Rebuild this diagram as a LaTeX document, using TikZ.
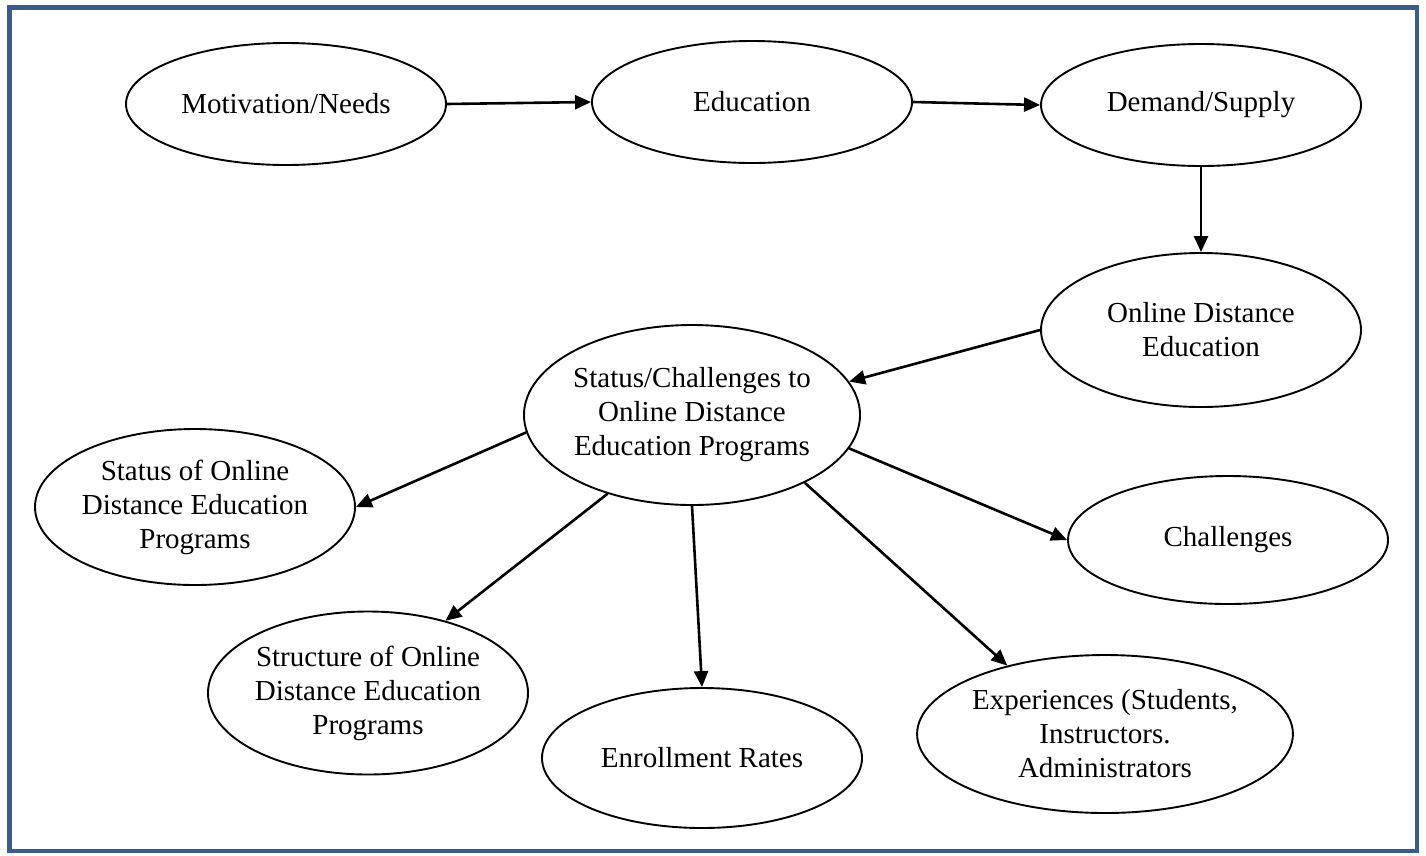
\documentclass[tikz,border=0pt]{standalone}
\usepackage{fontspec}
\setmainfont{Liberation Serif}
\usetikzlibrary{shapes.geometric,arrows.meta}
\definecolor{frameblue}{RGB}{56,93,138}

\begin{document}
\begin{tikzpicture}[x=1pt, y=-1pt,
  bubble/.style={ellipse, draw, line width=1.9pt, inner sep=0pt, align=center,
    minimum width=320pt, font=\fontsize{29}{34}\selectfont},
  link/.style={line width=2.6pt, -{Triangle[length=16pt,width=14pt]}}]
\useasboundingbox (0,0) rectangle (1426,855);
% Frame
\draw[line width=4.5pt, frameblue] (9.5,7.5) rectangle (1417,851);

% Top row
\node[bubble, minimum height=122pt] (mot) at (286,104) {Motivation/Needs};
\node[bubble, minimum height=122pt] (edu) at (752,102) {Education};
\node[bubble, minimum height=122pt] (dem) at (1201,105) {Demand/Supply};
\node[bubble, minimum height=154pt] (onl) at (1201,330) {Online Distance\\Education};

% Centre
\node[bubble, minimum height=180pt] (sc) at (692,415) {Status/Challenges to\\Online Distance\\Education Programs};

% Outcomes
\node[bubble, minimum height=156pt] (so) at (195,507) {Status of Online\\Distance Education\\Programs};
\node[bubble, minimum height=128pt] (ch) at (1228,540) {Challenges};
\node[bubble, minimum height=163pt] (str) at (368,693) {Structure of Online\\Distance Education\\Programs};
\node[bubble, minimum height=140pt] (enr) at (702,758) {Enrollment Rates};
\node[bubble, minimum width=367pt, minimum height=158pt] (exp) at (1105,734) {Experiences (Students,\\Instructors.\\Administrators};

% Arrows
\draw[link] (mot.east) -- (edu.west);
\draw[link] (edu.east) -- (dem.west);
\draw[link] (dem.south) -- (onl.north);
\draw[link] (onl.west) -- (sc.12);
\draw[link] (sc.186) -- (so.east);
\draw[link] (sc.223) -- (str.43);
\draw[link] (sc.south) -- (enr.north);
\draw[link] (sc.-31) -- (exp.145);
\draw[link] (sc.-12) -- (ch.west);
\end{tikzpicture}
\end{document}
